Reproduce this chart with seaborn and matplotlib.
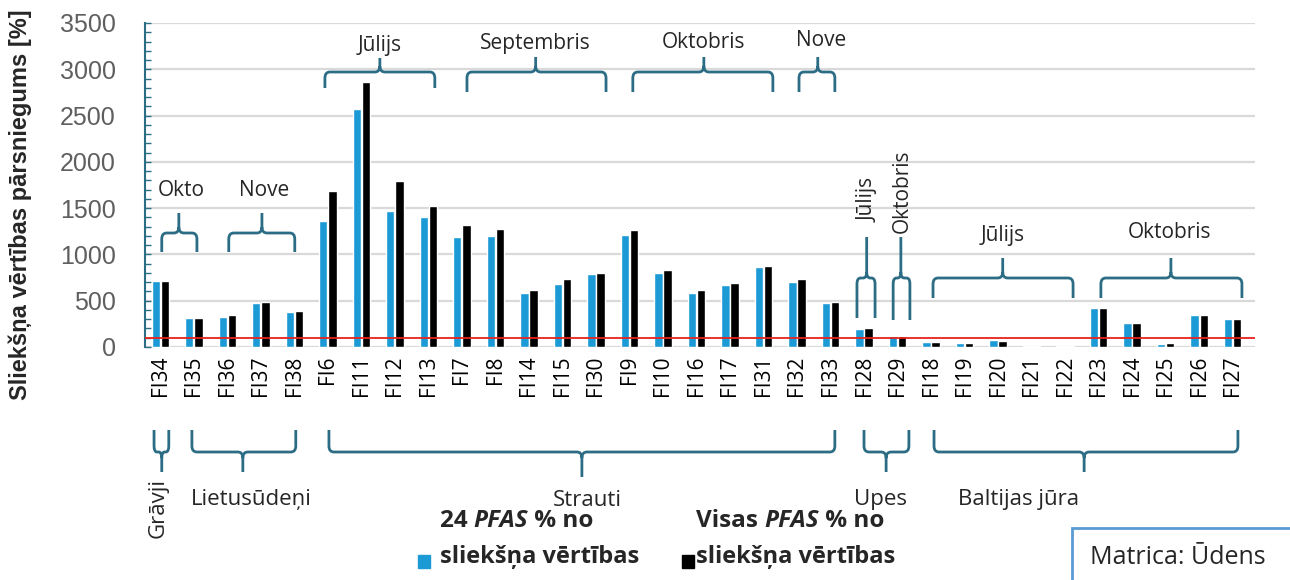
import numpy as np
import pandas as pd
import seaborn as sns
import matplotlib.pyplot as plt
from matplotlib.path import Path
from matplotlib.patches import PathPatch, Rectangle
from matplotlib.ticker import MultipleLocator
from matplotlib.transforms import blended_transform_factory

# Data
sites = ['FI34', 'FI35', 'FI36', 'FI37', 'FI38', 'FI6', 'FI11', 'FI12', 'FI13',
         'FI7', 'FI8', 'FI14', 'FI15', 'FI30', 'FI9', 'FI10', 'FI16', 'FI17',
         'FI31', 'FI32', 'FI33', 'FI28', 'FI29', 'FI18', 'FI19', 'FI20', 'FI21',
         'FI22', 'FI23', 'FI24', 'FI25', 'FI26', 'FI27']
pfas24 = [710, 315, 325, 470, 379, 1365, 2574, 1470, 1408,
          1191, 1199, 578, 679, 784, 1210, 795, 585, 668,
          860, 697, 477, 199, 119, 54, 47, 72, 15,
          15, 422, 260, 36, 343, 307]
pfas_all = [715, 312, 343, 487, 386, 1690, 2863, 1798, 1527,
            1318, 1271, 614, 730, 801, 1264, 830, 614, 693,
            877, 730, 487, 210, 119, 54, 43, 65, 15,
            15, 422, 260, 47, 343, 307]
threshold = 100
series_names = ['24 PFAS', 'Visas PFAS']

BLUE = '#1b9ad6'
TEAL = '#2c6d85'
W, H = 1290, 580

sns.set_theme(style='white')
plt.rcParams['font.family'] = ['Open Sans', 'DejaVu Sans']

df = pd.DataFrame({
    'site': sites * 2,
    'value': pfas24 + pfas_all,
    'series': [series_names[0]] * len(sites) + [series_names[1]] * len(sites),
})

fig = plt.figure(figsize=(W / 100, H / 100), dpi=100)
ax = fig.add_axes([145 / W, 1 - 347 / H, (1255 - 145) / W, (347 - 23) / H])

sns.barplot(data=df, x='site', y='value', hue='series', order=sites,
            hue_order=series_names, palette=[BLUE, 'black'], saturation=1,
            width=0.54, gap=0.1, legend=False, ax=ax)

ax.axhline(threshold, color='#e8221b', lw=1.3, zorder=3)

ax.set_xlim(-0.46, 32.67)
ax.set_ylim(0, 3500)
ax.set_xlabel('')
ax.set_ylabel('')
ax.yaxis.set_major_locator(MultipleLocator(500))
ax.yaxis.set_minor_locator(MultipleLocator(100))
ax.yaxis.grid(True, which='major', color='#d9d9d9', lw=1.6)
ax.set_axisbelow(True)
for s in ['top', 'right', 'bottom']:
    ax.spines[s].set_visible(False)
ax.spines['left'].set_color(TEAL)
ax.spines['left'].set_linewidth(1.5)
ax.tick_params(axis='y', which='both', direction='in', length=4, width=1,
               color=TEAL, left=True, pad=21)
ax.tick_params(axis='y', labelsize=18, labelcolor='#5f5f5f')
for lab in ax.get_yticklabels():
    lab.set_fontfamily('Liberation Sans')
ax.tick_params(axis='x', length=0, pad=6, labelsize=15, labelcolor='black')
plt.setp(ax.get_xticklabels(), rotation=90, va='top', ha='center')

fig.text(20 / W, 1 - 205 / H, 'Sliekšņa vērtības pārsniegums [%]', rotation=90,
         ha='center', va='center', fontsize=17, fontweight='bold',
         family='Liberation Sans')

# curly braces: x in data units, y in pixels from the top of the figure
tr = blended_transform_factory(ax.transData, fig.transFigure)


def fy(py):
    return 1 - py / H


def brace(x0, x1, xm, y_tip, y_mid, y_end):
    yt, ym, ye = fy(y_tip), fy(y_mid), fy(y_end)
    d = 1 if yt > ym else -1
    ry = 6 / H
    rx = min(0.15, (x1 - x0) / 5)
    verts = [(x0, yt), (x0, ym + d * ry), (x0, ym), (x0 + rx, ym),
             (xm - rx, ym), (xm, ym), (xm, ym - d * ry), (xm, ye),
             (x1, yt), (x1, ym + d * ry), (x1, ym), (x1 - rx, ym),
             (xm + rx, ym), (xm, ym), (xm, ym - d * ry)]
    codes = [Path.MOVETO, Path.LINETO, Path.CURVE3, Path.CURVE3,
             Path.LINETO, Path.CURVE3, Path.CURVE3, Path.LINETO,
             Path.MOVETO, Path.LINETO, Path.CURVE3, Path.CURVE3,
             Path.LINETO, Path.CURVE3, Path.CURVE3]
    ax.add_patch(PathPatch(Path(verts, codes), transform=tr, fill=False,
                           edgecolor=TEAL, lw=2, clip_on=False, zorder=4))


top_braces = [
    ('Okto', 0.04, 1.09, 0.55, 252, 233, 213, 0.61, 190, 0),
    ('Nove', 2.04, 4.01, 3.03, 252, 233, 213, 3.09, 190, 0),
    ('Jūlijs', 4.91, 8.19, 6.55, 88, 72, 58, 6.55, 45, 0),
    ('Septembris', 9.15, 13.3, 11.2, 92, 72, 57, 11.2, 43, 0),
    ('Oktobris', 14.1, 18.28, 16.22, 92, 72, 57, 16.2, 43, 0),
    ('Nove', 19.06, 20.13, 19.62, 92, 72, 57, 19.72, 41, 0),
    ('Jūlijs', 20.79, 21.33, 21.08, 318, 278, 237, 21.12, 200, 90),
    ('Oktobris', 21.87, 22.37, 22.1, 320, 278, 237, 22.13, 191, 90),
    ('Jūlijs', 23.06, 27.24, 25.14, 298, 278, 258, 25.14, 236, 0),
    ('Oktobris', 28.07, 32.28, 30.16, 298, 278, 258, 30.12, 232, 0),
]
for label, x0, x1, xm, yt, ym, ye, tx, ty, rot in top_braces:
    brace(x0, x1, xm, yt, ym, ye)
    ax.text(tx, fy(ty), label, transform=tr, ha='center', va='center',
            fontsize=15, rotation=rot, clip_on=False)

bottom_braces = [
    ('Grāvji', -0.19, 0.25, 0.04, 472, -0.07, 508, 90),
    ('Lietusūdeņi', 0.94, 4.04, 2.46, 472, 2.7, 500, 0),
    ('Strauti', 5.03, 20.13, 12.58, 477, 12.73, 500, 0),
    ('Upes', 21.0, 22.34, 21.66, 472, 21.48, 500, 0),
    ('Baltijas jūra', 23.09, 32.16, 27.57, 472, 25.6, 500, 0),
]
for label, x0, x1, xm, ye, tx, ty, rot in bottom_braces:
    brace(x0, x1, xm, 430, 452, ye)
    ax.text(tx, fy(ty), label, transform=tr, ha='center', va='center',
            fontsize=16, rotation=rot, clip_on=False)

# legend built by hand, two-line bold labels with italic PFAS
renderer = fig.canvas.get_renderer()


def rich_line(x_px, y_px, parts, size):
    x = x_px
    for txt, style in parts:
        t = fig.text(x / W, fy(y_px), txt, fontsize=size, fontweight='bold',
                     style=style, ha='left', va='center')
        x += t.get_window_extent(renderer).width


legend_items = [(BLUE, 418, 440, series_names[0].split(' ')[0] + ' '),
                ('black', 682, 696, series_names[1].split(' ')[0] + ' ')]
for color, sq_x, tx, first in legend_items:
    fig.patches.append(Rectangle((sq_x / W, fy(568)), 12 / W, 13 / H,
                                 transform=fig.transFigure, color=color))
    rich_line(tx, 521, [(first, 'normal'), ('PFAS', 'italic'), (' % no', 'normal')], 17.5)
    rich_line(tx, 557, [('sliekšņa vērtības', 'normal')], 17)

fig.patches.append(Rectangle((1072 / W, fy(585)), 240 / W, 57 / H,
                             transform=fig.transFigure, facecolor='white',
                             edgecolor='#5b9bd5', lw=2))
fig.text(1090 / W, fy(557), 'Matrica: Ūdens', fontsize=18, ha='left', va='center')

fig.savefig('out.png', dpi=100)
